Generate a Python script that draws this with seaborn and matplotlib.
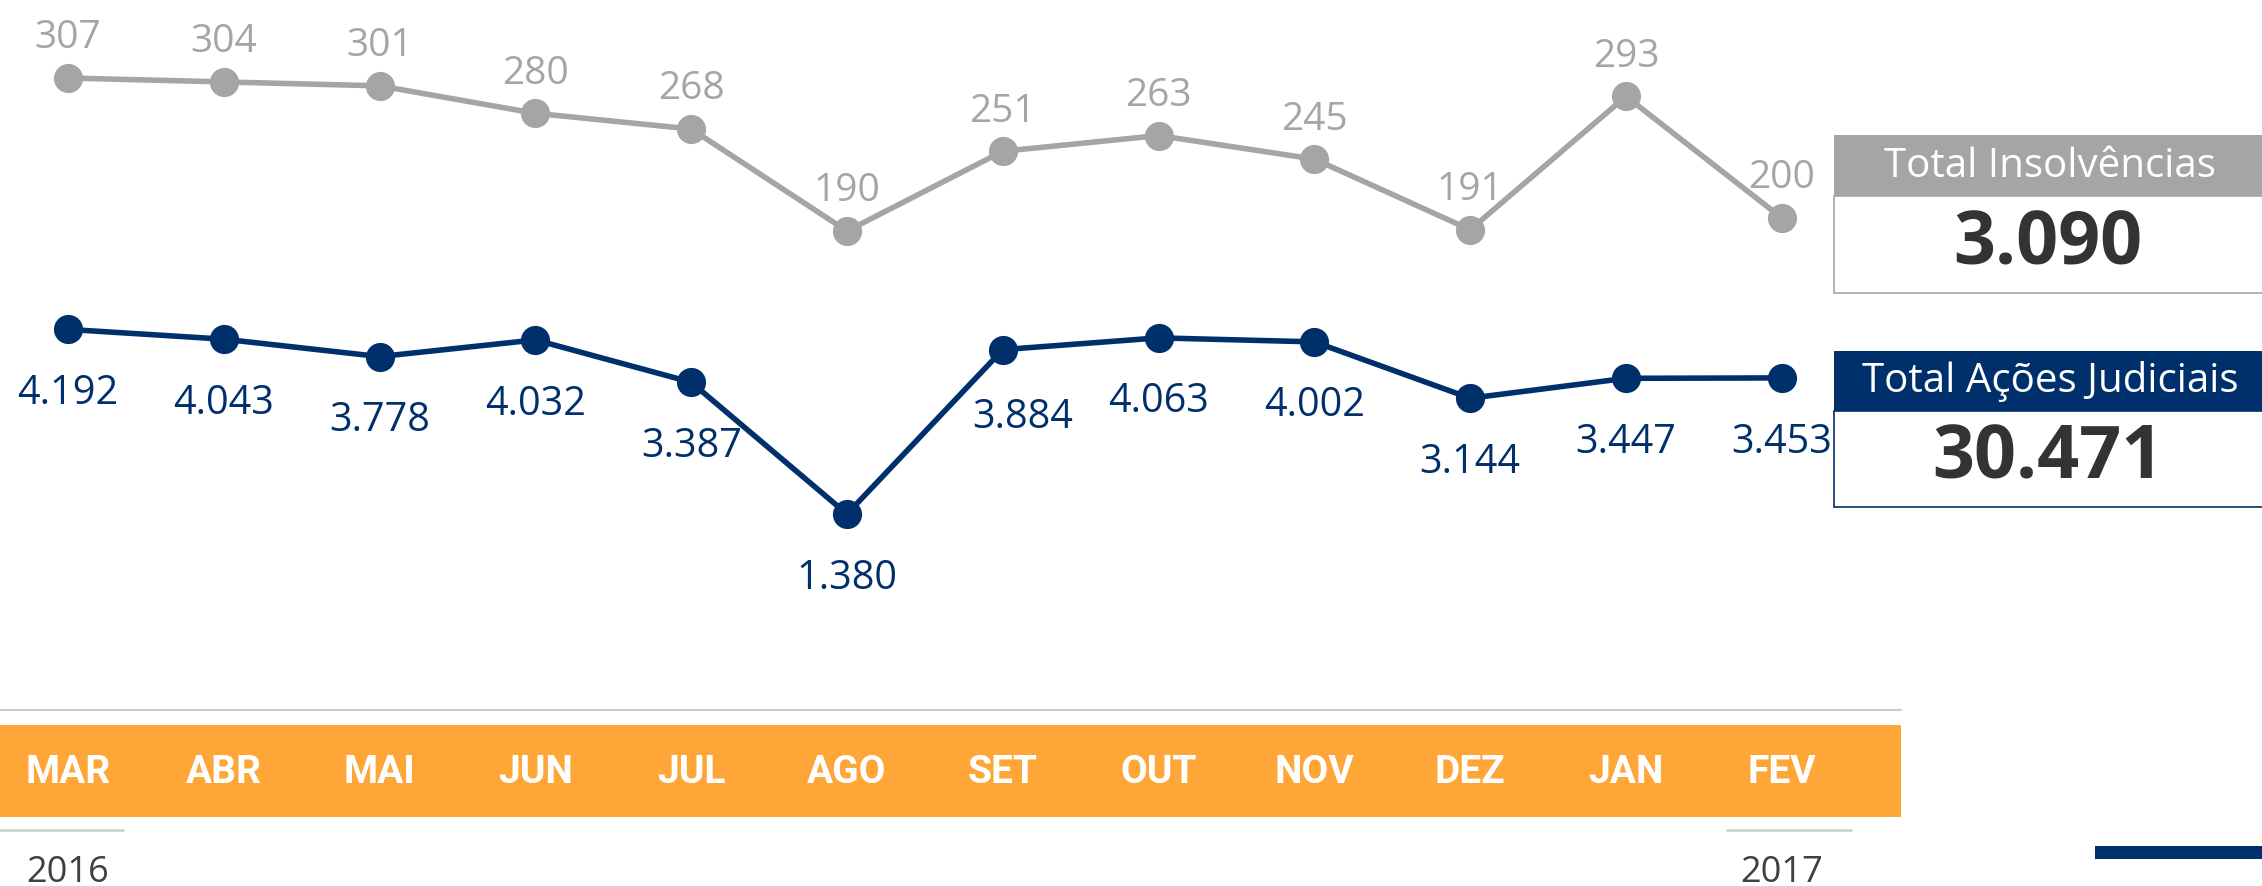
import pandas as pd
import matplotlib
matplotlib.use("Agg")
import matplotlib.pyplot as plt
from matplotlib.patches import Rectangle
from matplotlib.lines import Line2D
import matplotlib.transforms as mtransforms
import seaborn as sns

# data
months = ["MAR", "ABR", "MAI", "JUN", "JUL", "AGO", "SET", "OUT", "NOV", "DEZ", "JAN", "FEV"]
insolvencias = [307, 304, 301, 280, 268, 190, 251, 263, 245, 191, 293, 200]
acoes_judiciais = [4192, 4043, 3778, 4032, 3387, 1380, 3884, 4063, 4002, 3144, 3447, 3453]
years = ["2016", "2017"]
year_month_idx = [0, 11]
total_insolv = "3.090"
total_acoes = "30.471"

GRAY = "#A5A5A5"
NAVY = "#00306B"
ORANGE = "#FEA738"
RULE = "#CACACA"
DARK = "#333333"

sns.set_theme(style="white")
plt.rcParams["font.family"] = ["Open Sans", "DejaVu Sans"]

W, H = 2262, 887
fig = plt.figure(figsize=(W / 100, H / 100), dpi=100)


def fx(px):
    return px / W


def fy(py):
    return 1 - py / H


df = pd.DataFrame({"idx": range(len(months)), "mes": months,
                   "insolv": insolvencias, "acoes": acoes_judiciais})

# pixel layout of the category axis
x0, dx = 68, 155.8
xlim = (-x0 / dx, (W - x0) / dx)

# gray series axis: 307 -> 79 px, 1.308 px per unit
ax_g = fig.add_axes([0, 0, 1, 1])
ax_g.set_ylim(307 - (H - 79) / 1.308, 307 + 79 / 1.308)
# navy series axis: 4192 -> 330 px, 0.06565 px per unit
ax_b = fig.add_axes([0, 0, 1, 1])
ax_b.set_ylim(4192 - (H - 330.4) / 0.06565, 4192 + 330.4 / 0.06565)

sns.lineplot(data=df, x="idx", y="insolv", ax=ax_g, color=GRAY, linewidth=4,
             marker="o", markersize=21, markeredgewidth=0)
sns.lineplot(data=df, x="idx", y="acoes", ax=ax_b, color=NAVY, linewidth=4,
             marker="o", markersize=21, markeredgewidth=0)
for ax in (ax_g, ax_b):
    ax.set_xlim(*xlim)
    ax.set_axis_off()
    ax.patch.set_alpha(0)

for i, v in enumerate(insolvencias):
    ax_g.annotate(str(v), (i, v), xytext=(0, 22), textcoords="offset points",
                  ha="center", va="baseline", fontsize=28, color=GRAY)

for i, v in enumerate(acoes_judiciais):
    label = f"{v:,}".replace(",", ".")
    ox, oy = (0, -53)
    if months[i] == "SET":
        ox, oy = (14, -56)
    ax_b.annotate(label, (i, v), xytext=(ox, oy), textcoords="offset points",
                  ha="center", va="baseline", fontsize=28.5, color=NAVY)

# month strip
fig.add_artist(Line2D([0, fx(1901)], [fy(711), fy(711)], color=RULE, lw=1.5))
fig.add_artist(Rectangle((0, fy(818)), fx(1901), fy(726) - fy(818),
                         facecolor=ORANGE, edgecolor="none"))
tr = mtransforms.blended_transform_factory(ax_b.transData, fig.transFigure)
for i, m in enumerate(months):
    fig.text(i, fy(773), m, transform=tr, ha="center", va="center", zorder=5,
             fontsize=28, fontweight="bold", color="white", family="Roboto")

# year marks
fig.add_artist(Line2D([0, fx(123)], [fy(831), fy(831)], color=RULE, lw=1.8))
fig.add_artist(Line2D([fx(1727), fx(1851)], [fy(831), fy(831)], color=RULE, lw=1.8))
for idx, y in zip(year_month_idx, years):
    fig.text(idx, fy(882), y, transform=tr, ha="center", va="baseline", zorder=5,
             fontsize=26, color="#404040")

# summary boxes
def summary_box(top, head_bot, bot, color, title, value):
    fig.add_artist(Rectangle((fx(1834), fy(bot)), fx(W + 5) - fx(1834), fy(head_bot) - fy(bot),
                             facecolor="white", edgecolor=color, lw=1.2))
    fig.add_artist(Rectangle((fx(1834), fy(head_bot)), fx(W + 5) - fx(1834), fy(top) - fy(head_bot),
                             facecolor=color, edgecolor="none"))
    fig.text(fx(2050), fy((top + head_bot) / 2), title, ha="center", va="center",
             fontsize=29, color="white", zorder=5)
    fig.text(fx(2048), fy((head_bot + bot) / 2), value, ha="center", va="center",
             fontsize=53, fontweight="bold", color=DARK, zorder=5)


summary_box(136, 197, 294, GRAY, "Total Insolvências", total_insolv)
summary_box(352, 412, 508, NAVY, "Total Ações Judiciais", total_acoes)

# navy tab bottom right
fig.add_artist(Rectangle((fx(2095), fy(860)), fx(W) - fx(2095), fy(847) - fy(860),
                         facecolor=NAVY, edgecolor="none"))

fig.savefig("out.png", dpi=100, facecolor="white")
